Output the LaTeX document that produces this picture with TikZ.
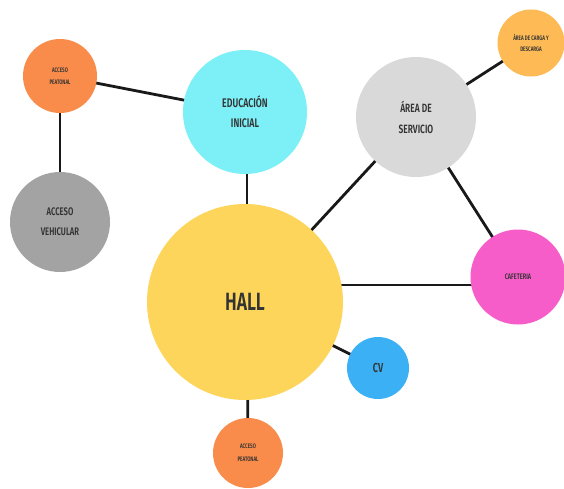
\documentclass[tikz,border=0pt]{standalone}
\usepackage{fontspec}
\usetikzlibrary{backgrounds}
\newfontfamily\cond[FakeStretch=0.7]{Fira Sans SemiBold}
\begin{document}
\begin{tikzpicture}[x=1pt,y=-1pt,
  bub/.style={circle,inner sep=0pt,align=center,text=black!80,font=\cond,minimum size=#1},
  link/.style={line width=2.8pt,black!90}]
\definecolor{corange}{HTML}{F98B4B}
\definecolor{ccyan}{HTML}{7CF0F6}
\definecolor{clgray}{HTML}{D9D9D9}
\definecolor{cgray}{HTML}{A3A3A3}
\definecolor{cyellow}{HTML}{FDD55B}
\definecolor{cpink}{HTML}{F65DC9}
\definecolor{cblue}{HTML}{3CB0F4}
\definecolor{clorange}{HTML}{FDBA55}
\useasboundingbox (0,0) rectangle (564,489);
% rooms
\node[bub=74pt,fill=corange,font=\cond\fontsize{6.5}{12}\selectfont] (ap1) at (60,76) {ACCESO\\PEATONAL};
\node[bub=124pt,fill=ccyan,font=\cond\fontsize{12.5}{20}\selectfont] (ei) at (245,112) {EDUCACIÓN\\INICIAL};
\node[bub=120pt,fill=clgray,font=\cond\fontsize{12}{21}\selectfont] (as) at (416,117) {ÁREA DE\\SERVICIO};
\node[bub=67pt,fill=clorange,font=\cond\fontsize{6.5}{11}\selectfont] (ac) at (531,43) {ÁREA DE CARGA Y\\DESCARGA};
\node[bub=100pt,fill=cgray,font=\cond\fontsize{11}{20}\selectfont] (av) at (60,222) {ACCESO\\VEHICULAR};
\node[bub=196pt,fill=cyellow,font=\cond\fontsize{25}{28}\selectfont] (hall) at (245,302) {HALL};
\node[bub=95pt,fill=cpink,font=\cond\fontsize{8}{10}\selectfont] (caf) at (518,277) {CAFETERIA};
\node[bub=62pt,fill=cblue,font=\cond\fontsize{13}{14}\selectfont] (cv) at (378,368) {CV};
\node[bub=70pt,fill=corange,font=\cond\fontsize{6.5}{13}\selectfont] (ap2) at (248,453) {ACCESO\\PEATONAL};
% connections behind the rooms
\coordinate (hc) at ([yshift=17pt]hall.center);
\begin{scope}[on background layer]
\fill[white] (0,0) rectangle (564,489);
\draw[link] (ap1.center) -- (ei.center);
\draw[link] (ap1.center) -- (av.center);
\draw[link] ([xshift=2pt]ei.center) -- ([xshift=2pt]hall.center);
\draw[link] (hall.center) -- (as.center);
\draw[link] (as.center) -- (ac.center);
\draw[link] (as.center) -- (caf.center);
\draw[link] (hc) -- (hc -| caf.center);
\draw[link] (hall.center) -- (cv.center);
\draw[link] ([xshift=2pt]hall.center) -- (ap2.center);
\end{scope}
\end{tikzpicture}
\end{document}
